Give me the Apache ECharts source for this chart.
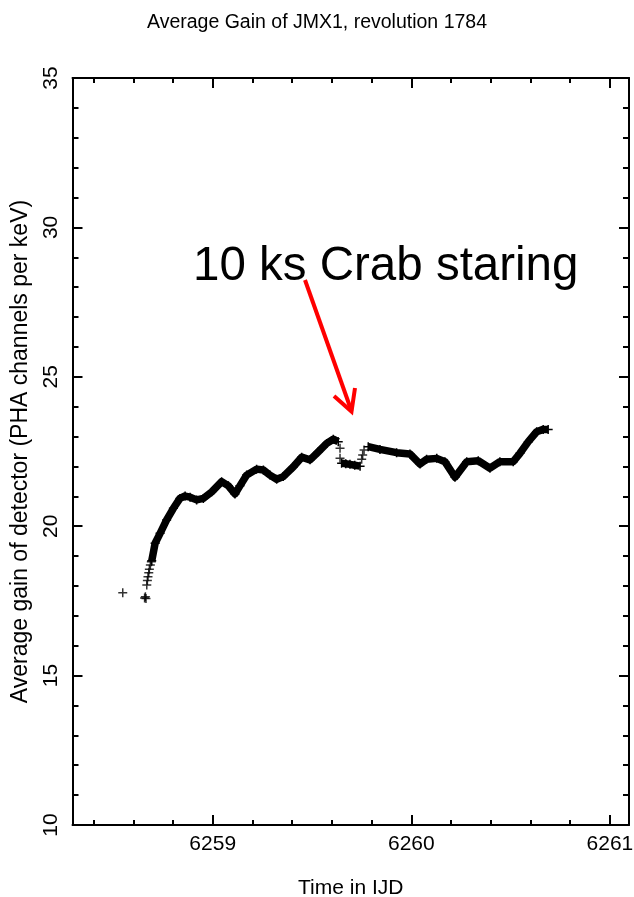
<!DOCTYPE html>
<html>
<head>
<meta charset="utf-8">
<title>Average Gain of JMX1, revolution 1784</title>
<script src="https://cdn.jsdelivr.net/npm/echarts@6/dist/echarts.min.js"></script>
<style>
  html, body { margin: 0; padding: 0; background: #ffffff; }
  #chart { width: 634px; height: 897px; }
</style>
</head>
<body>
<div id="chart"></div>
<script>
// Time axis range (IJD) and tick positions
const xRange = [6258.294, 6261.096];
const xMajorTicks = [6259, 6260, 6261];
const xMinorTicks = [6258.4, 6258.6, 6258.8, 6259.2, 6259.4, 6259.6, 6259.8,
                     6260.2, 6260.4, 6260.6, 6260.8];
const yRange = [10, 35];

// Gain samples [time, gain]: continuous stretches
const gainRiseAndDrift = [
  [6258.693, 18.84], [6258.710, 19.43], [6258.735, 19.76], [6258.768, 20.21],
  [6258.802, 20.60], [6258.835, 20.93], [6258.861, 21.01], [6258.886, 20.97],
  [6258.919, 20.88], [6258.953, 20.93], [6258.995, 21.15], [6259.045, 21.49],
  [6259.079, 21.35], [6259.112, 21.08], [6259.137, 21.35], [6259.171, 21.71],
  [6259.221, 21.91], [6259.255, 21.88], [6259.288, 21.71], [6259.322, 21.57],
  [6259.355, 21.66], [6259.406, 21.99], [6259.448, 22.31], [6259.490, 22.22],
  [6259.532, 22.49], [6259.574, 22.77], [6259.607, 22.91], [6259.632, 22.83]
];
const gainCrabStare = [
  [6259.649, 22.11], [6259.670, 22.09], [6259.691, 22.07], [6259.715, 22.04],
  [6259.742, 22.01]
];
const gainAfterStare = [
  [6259.783, 22.66], [6259.842, 22.57], [6259.926, 22.46], [6259.993, 22.42],
  [6260.044, 22.08], [6260.077, 22.24], [6260.128, 22.27], [6260.169, 22.16],
  [6260.220, 21.64], [6260.279, 22.16], [6260.337, 22.19], [6260.396, 21.94],
  [6260.446, 22.16], [6260.513, 22.16], [6260.547, 22.44], [6260.589, 22.83],
  [6260.631, 23.16], [6260.664, 23.24], [6260.689, 23.24]
];
// Isolated samples (start-up, transitions into and out of the stare)
const gainSparse = [
  [6258.547, 17.77],
  [6258.657, 17.60], [6258.661, 17.64], [6258.664, 17.58],
  [6258.668, 18.03], [6258.671, 18.18], [6258.674, 18.31], [6258.678, 18.44],
  [6258.681, 18.56], [6258.686, 18.70], [6258.691, 18.81],
  [6259.641, 22.61], [6259.641, 22.27],
  [6259.750, 22.24], [6259.755, 22.38], [6259.762, 22.55]
];

const FONT = 'Liberation Sans, Arial, Helvetica, sans-serif';
const PLUS = 'path://M0,5L10,5M5,0L5,10';
const gridRect = { left: 72.5, right: 5, top: 78, bottom: 72 };

const chart = echarts.init(document.getElementById('chart'), null, { renderer: 'canvas' });

const black = '#000000';
const lineBlack = { color: black, width: 2 };

function majorXAxis(position, withLabels) {
  return {
    type: 'value', gridIndex: 0, position: position,
    min: xRange[0], max: xRange[1],
    splitLine: { show: false },
    axisLine: { show: true, onZero: false, lineStyle: lineBlack },
    axisTick: { show: true, inside: true, length: 10, customValues: xMajorTicks, lineStyle: lineBlack },
    axisLabel: withLabels
      ? { show: true, customValues: xMajorTicks, fontSize: 21, margin: 9, color: black, fontFamily: FONT,
          formatter: v => String(Math.round(v)) }
      : { show: false },
    name: withLabels ? 'Time in IJD' : '',
    nameLocation: 'middle', nameGap: 53,
    nameTextStyle: { fontSize: 21, color: black, fontFamily: FONT }
  };
}
function minorXAxis(position) {
  return {
    type: 'value', gridIndex: 1, position: position,
    min: xRange[0], max: xRange[1],
    splitLine: { show: false },
    axisLine: { show: false },
    axisTick: { show: true, inside: true, length: 5, customValues: xMinorTicks, lineStyle: lineBlack },
    axisLabel: { show: false }
  };
}
function yAxisAt(position, withLabels) {
  return {
    type: 'value', gridIndex: 0, position: position,
    min: yRange[0], max: yRange[1], interval: 5,
    splitLine: { show: false },
    axisLine: { show: true, onZero: false, lineStyle: lineBlack },
    axisTick: { show: true, inside: true, length: 10, lineStyle: lineBlack },
    minorTick: { show: true, splitNumber: 5, length: 6, lineStyle: lineBlack },
    axisLabel: withLabels
      ? { show: true, rotate: 90, fontSize: 21, margin: 11, color: black, fontFamily: FONT }
      : { show: false },
    name: withLabels ? 'Average gain of detector (PHA channels per keV)' : '',
    nameLocation: 'middle', nameGap: 37, nameRotate: 90,
    nameTextStyle: { fontSize: 23, color: black, fontFamily: FONT }
  };
}

const plusStyle = { color: black, borderColor: black, borderWidth: 1.5 };
function bandSeries(data) {
  return {
    type: 'line', xAxisIndex: 0, yAxisIndex: 0, data: data,
    symbol: PLUS, symbolSize: 9, showSymbol: true,
    lineStyle: { color: black, width: 7.5, join: 'round' },
    itemStyle: plusStyle, silent: true, z: 5
  };
}

chart.setOption({
  animation: false,
  backgroundColor: '#ffffff',
  title: {
    text: 'Average Gain of JMX1, revolution 1784',
    left: 'center', top: 8,
    textStyle: { fontSize: 19.5, fontWeight: 'normal', color: black, fontFamily: FONT }
  },
  grid: [
    Object.assign({ containLabel: false, outerBoundsMode: 'none' }, gridRect),
    Object.assign({ containLabel: false, outerBoundsMode: 'none' }, gridRect)
  ],
  xAxis: [
    majorXAxis('bottom', true),
    majorXAxis('top', false),
    minorXAxis('bottom'),
    minorXAxis('top')
  ],
  yAxis: [
    yAxisAt('left', true),
    yAxisAt('right', false),
    { type: 'value', gridIndex: 1, min: yRange[0], max: yRange[1], show: false }
  ],
  series: [
    bandSeries(gainRiseAndDrift),
    bandSeries(gainCrabStare),
    bandSeries(gainAfterStare),
    {
      type: 'scatter', xAxisIndex: 0, yAxisIndex: 0, data: gainSparse,
      symbol: PLUS, symbolSize: 9, itemStyle: plusStyle, silent: true, z: 6
    }
  ],
  graphic: [
    {
      type: 'text', left: 193, top: 243, z: 20,
      style: { text: '10 ks Crab staring', fill: black, font: '47.5px ' + FONT }
    },
    {
      type: 'polyline', z: 20,
      shape: { points: [[305, 280], [351.5, 411]] },
      style: { stroke: '#ff0000', lineWidth: 4, fill: null }
    },
    {
      type: 'polyline', z: 20,
      shape: { points: [[334, 396], [351.5, 411.5], [355, 388]] },
      style: { stroke: '#ff0000', lineWidth: 4, fill: null, lineJoin: 'miter' }
    }
  ]
});
</script>
</body>
</html>
